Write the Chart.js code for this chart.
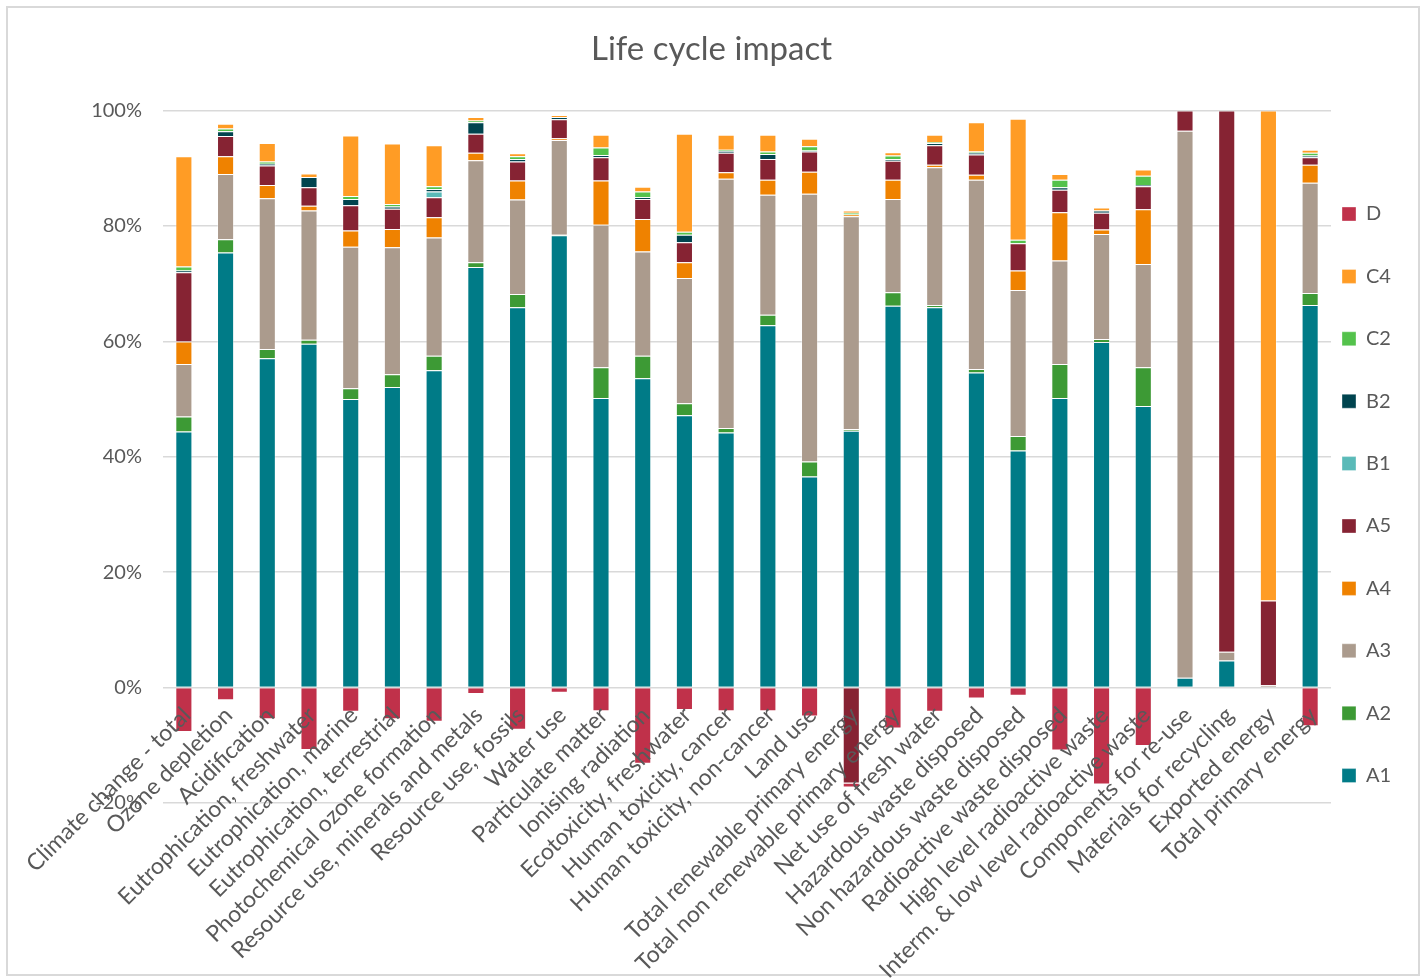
<!DOCTYPE html>
<html>
<head>
<meta charset="utf-8">
<script src="https://cdn.jsdelivr.net/npm/chart.js@4.4.1/dist/chart.umd.min.js"></script>
<style>
  html, body { margin: 0; padding: 0; background: #fff; }
  #frame { position: absolute; left: 6px; top: 6px; width: 1410px; height: 966px; border: 2px solid #d9d9d9; }
  #chart { position: absolute; left: 0; top: 0; }
</style>
</head>
<body>
<div id="frame"></div>
<canvas id="chart" width="1423" height="978"></canvas>
<script>
// categories (x axis)
const categories = [
  "Climate change - total", "Ozone depletion", "Acidification", "Eutrophication, freshwater",
  "Eutrophication, marine", "Eutrophication, terrestrial", "Photochemical ozone formation",
  "Resource use, minerals and metals", "Resource use, fossils", "Water use", "Particulate matter",
  "Ionising radiation", "Ecotoxicity, freshwater", "Human toxicity, cancer", "Human toxicity, non-cancer",
  "Land use", "Total renewable primary energy", "Total non renewable primary energy",
  "Net use of fresh water", "Hazardous waste disposed", "Non hazardous waste disposed",
  "Radioactive waste disposed", "High level radioactive waste", "Interm. & low level radioactive waste",
  "Components for re-use", "Materials for recycling", "Exported energy", "Total primary energy"
];

// series values, % share per module
const A1 = [44.4, 75.4, 57.1, 59.6, 50.0, 52.1, 55.0, 72.9, 65.9, 78.4, 50.2, 53.6, 47.2, 44.2, 62.8, 36.6, 44.5, 66.2, 65.9, 54.6, 41.1, 50.2, 59.9, 48.8, 1.7, 4.7, 0, 66.3];
const A2 = [2.6, 2.3, 1.6, 0.7, 1.9, 2.2, 2.5, 0.8, 2.3, 0.1, 5.3, 3.9, 2.1, 0.8, 1.8, 2.6, 0.3, 2.3, 0.4, 0.6, 2.5, 5.9, 0.5, 6.7, 0, 0, 0, 2.1];
const A3 = [9.1, 11.3, 26.1, 22.4, 24.5, 22.0, 20.5, 17.7, 16.4, 16.4, 24.7, 18.1, 21.7, 43.2, 20.8, 46.4, 36.9, 16.2, 23.9, 32.8, 25.3, 17.9, 18.2, 17.9, 94.8, 1.5, 0.4, 19.1];
const A4 = [3.9, 3.1, 2.3, 0.8, 2.8, 3.2, 3.5, 1.3, 3.3, 0.3, 7.7, 5.6, 2.7, 1.1, 2.6, 3.8, 0.3, 3.3, 0.4, 0.9, 3.4, 8.4, 0.8, 9.5, 0, 0, 0, 3.1];
const A5 = [12.0, 3.5, 3.4, 3.2, 4.4, 3.5, 3.5, 3.3, 3.3, 3.3, 4.0, 3.5, 3.5, 3.4, 3.6, 3.5, -16.6, 3.3, 3.4, 3.5, 4.7, 3.9, 2.9, 4.0, 3.5, 93.8, 14.7, 1.3];
const B1 = [0, 0, 0, 0, 0, 0, 1.0, 0, 0, 0, 0, 0, 0, 0, 0, 0, 0, 0, 0, 0, 0, 0, 0, 0, 0, 0, 0, 0];
const B2 = [0.3, 0.8, 0.3, 1.8, 1.1, 0.4, 0.4, 2.0, 0.4, 0.4, 0.4, 0.3, 1.3, 0.3, 0.9, 0.2, 0, 0.3, 0.4, 0.3, 0, 0.4, 0.4, 0.2, 0, 0, 0, 0.3];
const C2 = [0.7, 0.5, 0.4, 0, 0.5, 0.4, 0.5, 0.3, 0.5, 0, 1.3, 1.0, 0.5, 0.2, 0.4, 0.7, 0.3, 0.6, 0.1, 0.2, 0.6, 1.3, 0, 1.6, 0, 0, 0, 0.5];
const C4 = [19.1, 0.8, 3.2, 0.6, 10.5, 10.5, 7.1, 0.6, 0.5, 0.3, 2.2, 0.8, 17.0, 2.6, 2.9, 1.3, 0.4, 0.6, 1.3, 5.1, 21.0, 1.0, 0.5, 1.1, 0, 0, 84.9, 0.5];
const D = [-7.7, -2.2, -5.5, -10.8, -4.2, -5.5, -5.9, -1.1, -7.3, -0.9, -4.1, -13.2, -3.9, -4.1, -4.1, -5.0, -0.7, -7.1, -4.2, -1.9, -1.4, -10.9, -16.8, -10.1, 0, 0, 0, -6.7];

// y ticks
const yTicks = [-20, 0, 20, 40, 60, 80, 100];

const series = [
  { label: "A1", data: A1, color: "#007B87" },
  { label: "A2", data: A2, color: "#3D9A35" },
  { label: "A3", data: A3, color: "#AB9B8D" },
  { label: "A4", data: A4, color: "#EF8200" },
  { label: "A5", data: A5, color: "#862333" },
  { label: "B1", data: B1, color: "#5ABAB8" },
  { label: "B2", data: B2, color: "#00444F" },
  { label: "C2", data: C2, color: "#54C24C" },
  { label: "C4", data: C4, color: "#FF9C25" },
  { label: "D",  data: D,  color: "#C0314A" }
];

const FONT = "Lato, 'Open Sans', sans-serif";
const GREY = "#595959";

// put the legend where Excel had it (right side, items from y~214)
const legendPlace = {
  id: "legendPlace",
  afterLayout(chart) {
    const lg = chart.legend;
    const pad = lg.options.labels.padding;
    const w = lg.width, h = lg.height;
    lg.left = 1342 - pad; lg.right = lg.left + w;
    lg.top = 204 - pad; lg.bottom = lg.top + h;
  }
};

new Chart(document.getElementById("chart"), {
  type: "bar",
  data: {
    labels: categories,
    datasets: series.map(s => ({
      label: s.label,
      data: s.data,
      backgroundColor: s.color,
      borderColor: "rgba(255,255,255,0.35)",
      borderWidth: 1,
      barPercentage: 0.41,
      categoryPercentage: 1
    }))
  },
  options: {
    responsive: false,
    devicePixelRatio: 1,
    animation: false,
    layout: { padding: { left: 0, right: 0, top: 0, bottom: 175 } },
    plugins: {
      title: {
        display: true,
        text: "Life cycle impact",
        color: GREY,
        font: { family: FONT, size: 33, weight: "normal" },
        padding: { top: 30, bottom: 41 }
      },
      legend: {
        position: "right",
        reverse: true,
        align: "start",
        maxWidth: 92,
        labels: {
          boxWidth: 14, boxHeight: 14, padding: 42.4,
          color: GREY, textAlign: "left",
          font: { family: FONT, size: 20 }
        }
      },
      tooltip: { enabled: false }
    },
    scales: {
      x: {
        stacked: true,
        position: { y: 0 },
        grid: { display: false },
        border: { display: false },
        afterFit: axis => { axis.paddingLeft = 0; axis.paddingRight = 0; },
        ticks: {
          z: 1,
          autoSkip: false, minRotation: 45, maxRotation: 45,
          color: GREY, padding: 6, labelOffset: 3,
          font: { family: FONT, size: 23 }
        }
      },
      y: {
        stacked: true,
        min: yTicks[0], max: yTicks[yTicks.length - 1],
        afterBuildTicks: axis => { axis.ticks = yTicks.map(v => ({ value: v })); },
        afterFit: axis => { axis.width = 163; },
        grid: { color: "#d9d9d9", lineWidth: 1.5, drawTicks: false },
        border: { display: false },
        ticks: {
          color: GREY, padding: 21,
          font: { family: FONT, size: 20 },
          callback: v => v + "%"
        }
      }
    }
  },
  plugins: [legendPlace]
});
</script>
</body>
</html>
